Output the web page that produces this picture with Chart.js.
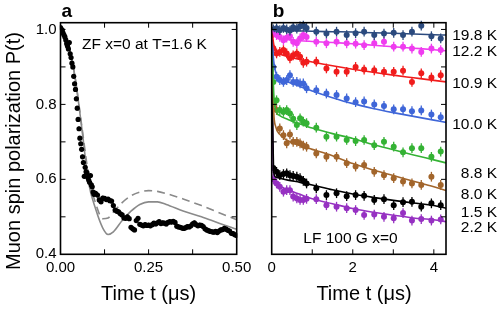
<!DOCTYPE html>
<html>
<head>
<meta charset="utf-8">
<script src="https://cdn.jsdelivr.net/npm/chart.js@4.4.1/dist/chart.umd.min.js"></script>
<style>
  body { margin: 0; background: #fff; width: 503px; height: 311px; position: relative; overflow: hidden; }
  #chartA { position: absolute; left: 0; top: 0; }
  #chartB { position: absolute; left: 260px; top: 0; }
</style>
</head>
<body>
<canvas id="chartA" width="260" height="311"></canvas>
<canvas id="chartB" width="243" height="311"></canvas>
<script>
// ---- panel a: ZF x=0 at T=1.6 K ----
const aTime = [0,0.0025,0.005,0.0075,0.01,0.0125,0.015,0.0175,0.02,0.0225,0.025,0.0275,0.03,0.0325,0.035,0.0375,0.04,0.0425,0.045,0.0475,
  0.05,0.0525,0.055,0.0575,0.06,0.0625,0.065,0.0675,0.07,0.0725,0.075,0.0775,0.08,0.0825,0.085,0.0875,0.09,0.0925,0.095,0.0975,0.1,
  0.105,0.11,0.115,0.12,0.125,0.13,0.135,0.14,0.145,0.15,0.155,0.16,0.165,0.17,0.175,0.18,0.185,0.19,0.195,0.2,
  0.205,0.21,0.215,0.22,0.225,0.23,0.235,0.24,0.245,0.25,0.255,0.26,0.265,0.27,0.275,0.28,0.285,0.29,0.295,0.3,
  0.305,0.31,0.315,0.32,0.325,0.33,0.335,0.34,0.345,0.35,0.355,0.36,0.365,0.37,0.375,0.38,0.385,0.39,0.395,0.4,
  0.405,0.41,0.415,0.42,0.425,0.43,0.435,0.44,0.445,0.45,0.455,0.46,0.465,0.47,0.475,0.48,0.485,0.49,0.495,0.5];
const aPol = [1.005,1.0,0.998,0.99,0.985,0.98,0.972,0.962,0.955,0.948,0.965,0.935,0.925,0.91,0.9,0.875,0.855,0.84,0.815,0.79,
  0.76,0.735,0.71,0.695,0.68,0.66,0.645,0.608,0.632,0.62,0.618,0.605,0.598,0.592,0.61,0.585,0.58,0.566,0.56,0.563,0.562,
  0.558,0.545,0.54,0.55,0.549,0.546,0.547,0.543,0.542,0.53,0.518,0.515,0.513,0.508,0.505,0.497,0.496,0.5,0.495,0.472,
  0.468,0.465,0.49,0.496,0.48,0.478,0.476,0.479,0.477,0.478,0.476,0.479,0.483,0.481,0.484,0.487,0.482,0.484,0.483,0.481,
  0.485,0.487,0.486,0.488,0.485,0.475,0.473,0.472,0.47,0.469,0.471,0.474,0.473,0.476,0.481,0.484,0.479,0.476,0.478,0.477,
  0.474,0.468,0.465,0.463,0.461,0.46,0.459,0.461,0.458,0.462,0.465,0.466,0.469,0.467,0.464,0.462,0.456,0.455,0.452,0.45];
const aFitTime = [0,0.02,0.04,0.06,0.08,0.1,0.12,0.135,0.15,0.175,0.2,0.225,0.25,0.275,0.3,0.35,0.4,0.45,0.5];
const aFitSolid = [1.0,0.965,0.88,0.74,0.59,0.52,0.47,0.453,0.46,0.49,0.515,0.533,0.54,0.54,0.533,0.515,0.5,0.483,0.467];
const aFitDashed = [1.0,0.965,0.88,0.745,0.61,0.535,0.495,0.497,0.512,0.538,0.556,0.566,0.57,0.568,0.562,0.547,0.53,0.511,0.492];
const aXTicks = [0, 0.25, 0.5];
const aXMinor = [0.125, 0.25, 0.375];
const yTicks = [0.4, 0.6, 0.8, 1.0];
const yMinor = [0.5, 0.6, 0.7, 0.8, 0.9, 1.0];

// ---- panel b: LF 100 G x=0 ----
const bTime = [0.04,0.12,0.2,0.29,0.37,0.45,0.53,0.62,0.7,0.78,0.86,
  1.1,1.35,1.6,1.85,2.07,2.28,2.53,2.77,3.01,3.24,3.46,3.69,3.94,4.17];
const p198 = [1.0,1.003,0.998,1.004,1.0,0.997,1.006,1.002,1.008,1.01,1.004,
  0.994,0.989,0.994,0.985,0.99,0.994,0.985,0.989,0.991,0.985,0.994,1.01,0.982,0.976];
const p122 = [0.99,0.985,0.98,0.971,0.978,0.982,0.967,0.963,0.976,0.985,0.98,
  0.967,0.963,0.967,0.963,0.962,0.958,0.963,0.967,0.954,0.954,0.949,0.94,0.949,0.945];
const p109 = [0.95,0.936,0.94,0.945,0.936,0.923,0.931,0.936,0.927,0.911,0.914,
  0.914,0.896,0.887,0.887,0.9,0.893,0.891,0.887,0.887,0.89,0.86,0.883,0.872,0.878];
const p100 = [0.9,0.874,0.865,0.86,0.865,0.878,0.86,0.86,0.856,0.856,0.843,
  0.838,0.829,0.825,0.816,0.806,0.808,0.8,0.796,0.787,0.787,0.782,0.784,0.773,0.766];
const p88 = [0.86,0.811,0.785,0.78,0.785,0.776,0.762,0.745,0.763,0.754,0.75,
  0.738,0.714,0.714,0.705,0.702,0.705,0.691,0.7,0.687,0.672,0.683,0.683,0.66,0.674];
const p80 = [0.8,0.785,0.736,0.718,0.696,0.72,0.7,0.7,0.696,0.69,0.687,
  0.669,0.66,0.66,0.643,0.634,0.638,0.62,0.611,0.603,0.594,0.589,0.585,0.607,0.585];
const p15 = [0.63,0.62,0.611,0.614,0.616,0.611,0.609,0.607,0.603,0.596,0.589,
  0.576,0.558,0.563,0.555,0.558,0.556,0.545,0.547,0.531,0.539,0.54,0.527,0.536,0.531];
const p22 = [0.6,0.589,0.58,0.567,0.571,0.571,0.554,0.549,0.545,0.545,0.548,
  0.547,0.531,0.527,0.523,0.518,0.505,0.506,0.5,0.496,0.51,0.49,0.494,0.49,0.493];

const bFitTime = [0,0.02,0.05,0.1,0.2,0.4,0.7,1.0,1.5,2.0,2.5,3.0,3.5,4.0,4.3];
const f198 = [1.0,1.0,0.999,0.999,0.998,0.997,0.996,0.995,0.994,0.993,0.991,0.99,0.988,0.986,0.985];
const f122 = [1.0,0.995,0.988,0.981,0.976,0.973,0.97,0.968,0.965,0.962,0.958,0.954,0.95,0.946,0.943];
const f109 = [1.0,0.985,0.96,0.945,0.935,0.928,0.92,0.913,0.903,0.894,0.886,0.878,0.871,0.864,0.86];
const f100 = [1.0,0.96,0.915,0.885,0.87,0.86,0.848,0.836,0.818,0.802,0.789,0.778,0.768,0.758,0.752];
const f88 = [1.0,0.93,0.83,0.785,0.77,0.76,0.748,0.737,0.722,0.709,0.693,0.679,0.665,0.652,0.644];
const f80 = [1.0,0.9,0.78,0.74,0.72,0.703,0.69,0.68,0.663,0.642,0.625,0.61,0.595,0.58,0.57];
const f15 = [1.0,0.8,0.62,0.606,0.603,0.598,0.592,0.585,0.572,0.561,0.552,0.544,0.537,0.53,0.523];
const f22 = [1.0,0.75,0.6,0.59,0.582,0.572,0.56,0.548,0.535,0.522,0.512,0.504,0.497,0.492,0.487];

const tempLabels = ['19.8 K', '12.2 K', '10.9 K', '10.0 K', '8.8 K', '8.0 K', '1.5 K', '2.2 K'];
const tempLabelAt = [0.984, 0.94, 0.856, 0.745, 0.616, 0.56, 0.51, 0.47];
const bXTicks = [0, 2, 4];
const bXMinor = [1, 2, 3, 4];

const seriesB = [
  { pts: p198, fit: f198, color: '#2b4a7e' },
  { pts: p122, fit: f122, color: '#ef3cef' },
  { pts: p109, fit: f109, color: '#f01c1c' },
  { pts: p100, fit: f100, color: '#3f66d8' },
  { pts: p88, fit: f88, color: '#34b234' },
  { pts: p80, fit: f80, color: '#a2652b' },
  { pts: p15, fit: f15, color: '#000000' },
  { pts: p22, fit: f22, color: '#9631c2' }
];

const FONT = '"Liberation Sans", Arial, Helvetica, sans-serif';
Chart.defaults.font.family = FONT;
Chart.defaults.color = '#000';

const zip = (xs, ys) => xs.map((x, i) => ({ x: x, y: ys[i] }));

// error bars, inward ticks and frame
const errorBars = {
  id: 'errorBars',
  beforeDatasetDraw(chart, args) {
    const ds = chart.data.datasets[args.index];
    if (!ds.err) return;
    const y = chart.scales.y;
    const ctx = chart.ctx;
    ctx.save();
    ctx.strokeStyle = ds.backgroundColor;
    ctx.lineWidth = 1.3;
    args.meta.data.forEach((pt, i) => {
      const v = ds.data[i].y;
      ctx.beginPath();
      ctx.moveTo(pt.x, y.getPixelForValue(v + ds.err));
      ctx.lineTo(pt.x, y.getPixelForValue(v - ds.err));
      ctx.stroke();
    });
    ctx.restore();
  }
};

const frame = {
  id: 'frame',
  afterDatasetsDraw(chart, args, opts) {
    const { ctx, chartArea: a, scales: { x, y } } = chart;
    ctx.save();
    ctx.strokeStyle = '#000';
    ctx.lineWidth = 1;
    const seg = (x1, y1, x2, y2) => { ctx.beginPath(); ctx.moveTo(x1, y1); ctx.lineTo(x2, y2); ctx.stroke(); };
    opts.xMinor.forEach(v => {
      const px = x.getPixelForValue(v);
      seg(px, a.bottom, px, a.bottom - 5);
      seg(px, a.top, px, a.top + 5);
    });
    opts.yMinor.forEach(v => {
      const py = y.getPixelForValue(v);
      seg(a.left, py, a.left + 5, py);
      seg(a.right, py, a.right - 5, py);
    });
    ctx.lineWidth = 1.6;
    ctx.strokeRect(a.left, a.top, a.right - a.left, a.bottom - a.top);
    ctx.restore();
  },
  afterDraw(chart, args, opts) {
    const { ctx, chartArea: a, scales: { x, y } } = chart;
    ctx.save();
    ctx.fillStyle = '#000';
    ctx.font = 'bold 19px ' + FONT;
    ctx.textBaseline = 'alphabetic';
    ctx.textAlign = 'left';
    ctx.fillText(opts.letter, a.left + 1, 17);
    ctx.font = '15.5px ' + FONT;
    ctx.textBaseline = 'middle';
    ctx.fillText(opts.note, opts.noteX, opts.noteY);
    if (opts.xTitle) {
      // panel b's x title sits a little right of the axis centre
      ctx.font = '20px ' + FONT;
      ctx.textAlign = 'center';
      ctx.fillText(opts.xTitle, opts.xTitleX, 294);
    }
    if (opts.yTitle) {
      ctx.font = '20px ' + FONT;
      ctx.translate(14, 151);
      ctx.rotate(-Math.PI / 2);
      ctx.textAlign = 'center';
      ctx.fillText(opts.yTitle, 0, 0);
    }
    ctx.restore();
    if (opts.tempLabels) {
      ctx.save();
      ctx.font = '15.5px ' + FONT;
      ctx.textAlign = 'right';
      ctx.textBaseline = 'middle';
      ctx.fillStyle = '#000';
      opts.tempLabels.forEach((t, i) => ctx.fillText(t, chart.width - 6, y.getPixelForValue(tempLabelAt[i])));
      ctx.restore();
    }
  }
};

const xTitleText = 'Time t (\u03bcs)';

// panel a
new Chart(document.getElementById('chartA'), {
  type: 'line',
  data: {
    datasets: [
      { data: zip(aTime, aPol), showLine: false, pointRadius: 2.6, pointBackgroundColor: '#000', pointBorderWidth: 0,
        backgroundColor: '#000', err: 0.006 },
      { data: zip(aFitTime, aFitSolid), borderColor: '#8a8a8a', borderWidth: 1.6, pointRadius: 0, cubicInterpolationMode: 'monotone' },
      { data: zip(aFitTime, aFitDashed), borderColor: '#8a8a8a', borderWidth: 1.6, borderDash: [8, 5], pointRadius: 0, cubicInterpolationMode: 'monotone' }
    ]
  },
  options: {
    responsive: false,
    animation: false,
    layout: { padding: { top: 22.7, right: 23.3, left: 0, bottom: 0 } },
    plugins: {
      legend: { display: false },
      tooltip: { enabled: false },
      frame: { letter: 'a', note: 'ZF x=0 at T=1.6 K', noteX: 82, noteY: 45,
        yTitle: 'Muon spin polarization P(t)', xMinor: aXMinor, yMinor: yMinor }
    },
    scales: {
      x: {
        type: 'linear', min: 0, max: 0.5,
        afterFit(s) { s.height = 56.7; },
        afterBuildTicks(s) { s.ticks = aXTicks.map(v => ({ value: v })); },
        ticks: { font: { size: 15 }, padding: 5, maxRotation: 0, callback: v => v.toFixed(2) },
        grid: { display: false, drawTicks: false },
        border: { display: false },
        title: { display: true, text: xTitleText, font: { size: 20 }, padding: { top: 0, bottom: 5 } }
      },
      y: {
        type: 'linear', min: 0.4, max: 1.018,
        afterFit(s) { s.width = 60.5; },
        afterBuildTicks(s) { s.ticks = yTicks.map(v => ({ value: v })); },
        ticks: { font: { size: 15 }, padding: 4, callback: v => v.toFixed(1) },
        grid: { display: false, drawTicks: false },
        border: { display: false }
      }
    }
  },
  plugins: [errorBars, frame]
});

// panel b
const bDatasets = [];
seriesB.forEach(s => {
  bDatasets.push({ data: zip(bFitTime, s.fit), borderColor: s.color, borderWidth: 1.6, pointRadius: 0, cubicInterpolationMode: 'monotone' });
});
seriesB.forEach(s => {
  bDatasets.push({ data: zip(bTime, s.pts), showLine: false, pointRadius: 3, pointBackgroundColor: s.color,
    pointBorderWidth: 0, backgroundColor: s.color, err: 0.013 });
});

new Chart(document.getElementById('chartB'), {
  type: 'line',
  data: { datasets: bDatasets },
  options: {
    responsive: false,
    animation: false,
    layout: { padding: { top: 22.7, right: 57, left: 11.7, bottom: 0 } },
    plugins: {
      legend: { display: false },
      tooltip: { enabled: false },
      frame: { letter: 'b', note: 'LF 100 G x=0', noteX: 43.3, noteY: 239,
        xTitle: xTitleText, xTitleX: 104,
        xMinor: bXMinor, yMinor: yMinor, tempLabels: tempLabels }
    },
    scales: {
      x: {
        type: 'linear', min: 0, max: 4.3,
        afterFit(s) { s.height = 56.7; },
        afterBuildTicks(s) { s.ticks = bXTicks.map(v => ({ value: v })); },
        ticks: { font: { size: 15 }, padding: 5, maxRotation: 0 },
        grid: { display: false, drawTicks: false },
        border: { display: false }
      },
      y: {
        type: 'linear', min: 0.4, max: 1.018, display: false
      }
    }
  },
  plugins: [errorBars, frame]
});
</script>
</body>
</html>
